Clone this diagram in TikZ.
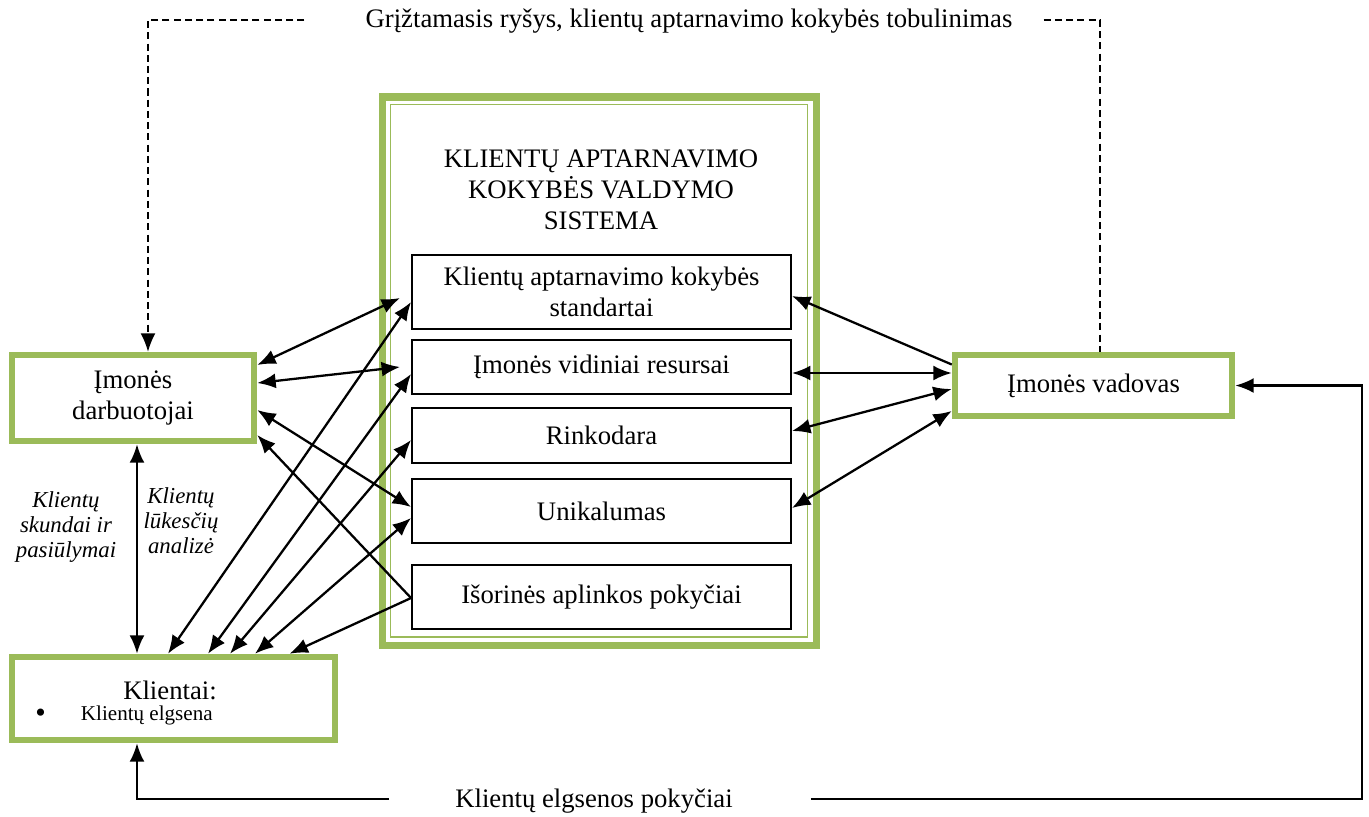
\documentclass[tikz,border=0pt]{standalone}
\usepackage{fontspec}
\setmainfont{Liberation Serif}
\usepackage{xcolor}
\usepackage{tikz}
\usetikzlibrary{arrows.meta,calc}

\definecolor{kgreen}{HTML}{9BBB59}

\begin{document}
\begin{tikzpicture}[x=0.02cm, y=-0.02cm,
                    >={Latex[length=10.5pt,width=8.5pt]},
                    every node/.style={font=\fontsize{15.2}{17.7}\selectfont},
                    gbox/.style n args={2}{draw=kgreen, fill=white,
                    line width=3.7pt,
                    minimum width=#1*0.02cm,
                    minimum height=#2*0.02cm,
                    inner sep=0pt, align=center,
                    rectangle},
                    kbox/.style n args={2}{draw=black, fill=white,
                    line width=1.1pt,
                    minimum width=#1*0.02cm,
                    minimum height=#2*0.02cm,
                    inner sep=0pt, align=center,
                    rectangle},
                    lnk/.style={line width=1.3pt},
                    dsh/.style={line width=0.9pt, dash pattern=on 4pt off 2.4pt},
                    lbl/.style={font=\fontsize{13}{14.2}\selectfont\itshape, align=center}]
    \useasboundingbox (0,0) rectangle (1369,816);

    \node[gbox={434}{548}, line width=4pt] (kav) at (599.5,371) {};
    \node[gbox={417}{532.5}, line width=1.1pt] (kavin) at (599,370.75) {};
    \node[align=center] (ttl) at (601,190) {KLIENTŲ APTARNAVIMO\\KOKYBĖS VALDYMO\\SISTEMA};

    \node[kbox={379}{74}] (std) at (601.5,292) {Klientų aptarnavimo kokybės\\standartai};
    \node[kbox={379}{54}] (res) at (601.5,367) {Įmonės vidiniai resursai};
    \node[kbox={379}{55}] (rink) at (601.5,435.5) {Rinkodara};
    \node[kbox={379}{64}] (unik) at (601.5,511) {Unikalumas};
    \node[kbox={379}{64}] (isor) at (601.5,597) {Išorinės aplinkos pokyčiai};

    \node[gbox={242}{86}, font=\fontsize{15.2}{18}\selectfont] (darb) at (133,398) {\raisebox{-2pt}{Įmonės}\\\raisebox{-2pt}{darbuotojai}};
    \node[gbox={277}{61}] (vadov) at (1093.5,385.5) {Įmonės vadovas};
    \node[gbox={323}{83}] (klient) at (173.5,698.5) {};
    \node (klt) at (170,690) {Klientai:};
    \node[anchor=west, inner sep=0pt, font=\fontsize{12}{13}\selectfont] (kle) at (35,715) {\raisebox{-1.5pt}{\fontsize{17}{17}\selectfont\textbullet}\hspace{20pt}Klientų elgsena};

    \node[lbl] (skd) at (66,527) {Klientų\\skundai ir\\pasiūlymai};
    \node[lbl] (luk) at (181,521) {Klientų\\lūkesčių\\analizė};

    \node (fb) at (689,21) {Grįžtamasis ryšys, klientų aptarnavimo kokybės tobulinimas};
    \node (el) at (594,801) {Klientų elgsenos pokyčiai};

    \draw[lnk,<->] ($(darb.east)+(0,-33)$) -- ($(std.west)+(-11,6)$);
    \draw[lnk,<->] ($(darb.east)+(0,-15)$) -- ($(res.west)+(-11,0)$);
    \draw[lnk,<->] ($(darb.east)+(0,12)$) -- ($(unik.west)+(0,-4)$);
    \draw[lnk,->] ($(isor.west)+(0,1)$) -- ($(darb.east)+(0,37)$);
    \draw[lnk,->] ($(isor.west)+(0,1)$) -- ($(klient.north)+(116,0)$);
    \draw[lnk,<->] ($(darb.south)+(4,0)$) -- ($(klient.north)+(-36.5,0)$);
    \draw[lnk,<->] ($(std.west)+(0,10)$) -- ($(klient.north)+(-5.5,0)$);
    \draw[lnk,<->] ($(res.west)+(0,7)$) -- ($(klient.north)+(34.5,0)$);
    \draw[lnk,<->] ($(rink.west)+(0,4.5)$) -- ($(klient.north)+(56.5,0)$);
    \draw[lnk,<->] ($(unik.west)+(0,7)$) -- ($(klient.north)+(81.5,0)$);

    \draw[lnk,->] ($(vadov.west)+(0,-21)$) -- ($(std.east)+(0,4)$);
    \draw[lnk,<->] ($(res.east)+(0,6)$) -- ($(vadov.west)+(0,-12.5)$);
    \draw[lnk,<->] ($(rink.east)+(0,-4.5)$) -- ($(vadov.west)+(0,3.5)$);
    \draw[lnk,<->] ($(unik.east)+(0,-3)$) -- ($(vadov.west)+(0,25.5)$);

    \draw[dsh,->] ($(fb.west)+(-55,-1)$) -| ($(darb.north)+(15,0)$);
    \draw[dsh] ($(fb.east)+(25,-1)$) -| ($(vadov.north)+(6.5,0)$);

    \draw[lnk,->] ($(el.east)+(72,-2)$) -| ($(vadov.east)+(127,0)$) -- (vadov.east);
    \draw[lnk,->] ($(el.west)+(-60,-2)$) -| ($(klient.south)+(-36.5,0)$);
\end{tikzpicture}
\end{document}
